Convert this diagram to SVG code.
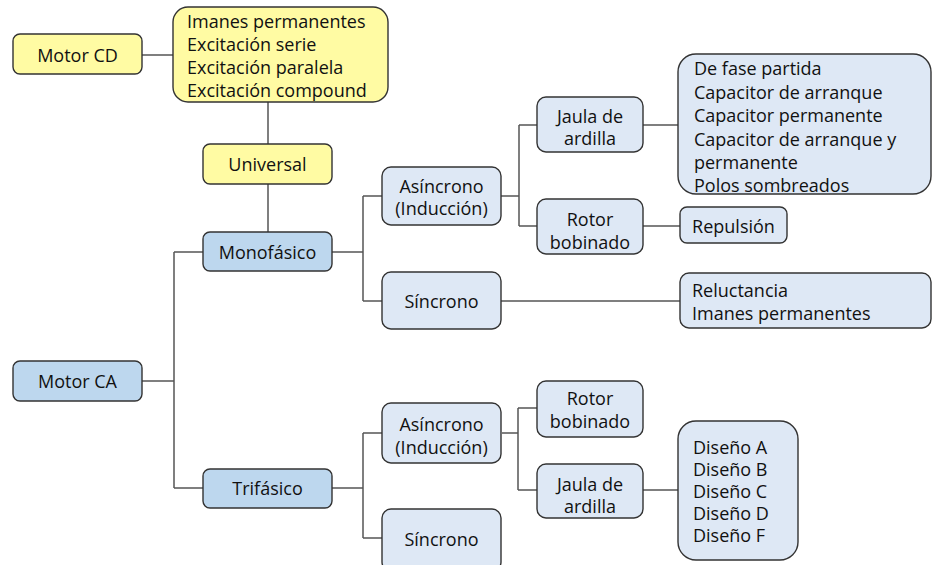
<svg xmlns="http://www.w3.org/2000/svg" width="933" height="565" viewBox="0 0 933 565">
<style>
text{font-family:"Open Sans","Noto Sans","DejaVu Sans",sans-serif;font-size:18px;fill:#111;dominant-baseline:central}
.c{text-anchor:middle}
.box{stroke:#333;stroke-width:1.4}
.y{fill:#fffba3}
.d{fill:#bdd7ee}
.l{fill:#dee8f5}
#connectors path{fill:none;stroke:#555;stroke-width:1.5}
</style>
<rect width="933" height="565" fill="#fff"/>
<g id="connectors">
<path d="M142,55H173"/>
<path d="M268,102V144M268,184V232"/>
<path d="M142,381H174M174,252V488M174,252H203M174,488H203"/>
<path d="M332,252H363M363,196V301M363,196H382M363,301H382"/>
<path d="M501,196H519M519,125V226M519,125H537M519,226H537"/>
<path d="M643,125H678M643,226H680M501,301H680"/>
<path d="M332,488H363M363,433V538M363,433H382M363,538H382"/>
<path d="M502,433H518M518,408V490M518,408H537M518,490H537"/>
<path d="M643,490H678"/>
</g>
<g id="motor-cd"><rect class="box y" x="13" y="34" width="129" height="40" rx="7"/><text class="c" x="77.5" y="55">Motor CD</text></g>
<g id="cd-tipos"><rect class="box y" x="173" y="7" width="215" height="95" rx="15"/>
<text x="187" y="21">Imanes permanentes</text><text x="187" y="44">Excitación serie</text><text x="187" y="67">Excitación paralela</text><text x="187" y="90">Excitación compound</text></g>
<g id="universal"><rect class="box y" x="203" y="144" width="129" height="40" rx="7"/><text class="c" x="267.5" y="164">Universal</text></g>
<g id="monofasico"><rect class="box d" x="203" y="232" width="129" height="39" rx="7"/><text class="c" x="267.5" y="252">Monofásico</text></g>
<g id="motor-ca"><rect class="box d" x="13" y="361" width="129" height="40" rx="7"/><text class="c" x="77.5" y="381">Motor CA</text></g>
<g id="trifasico"><rect class="box d" x="203" y="469" width="129" height="39" rx="7"/><text class="c" x="267.5" y="488">Trifásico</text></g>
<g id="mono-asincrono"><rect class="box l" x="382" y="167" width="119" height="58" rx="9"/><text class="c" x="441.5" y="186">Asíncrono</text><text class="c" x="441.5" y="208">(Inducción)</text></g>
<g id="mono-sincrono"><rect class="box l" x="382" y="272" width="119" height="57" rx="9"/><text class="c" x="441.5" y="301">Síncrono</text></g>
<g id="mono-jaula"><rect class="box l" x="537" y="97" width="106" height="55" rx="9"/><text class="c" x="590" y="116">Jaula de</text><text class="c" x="590" y="138">ardilla</text></g>
<g id="mono-rotor"><rect class="box l" x="537" y="199" width="106" height="55" rx="9"/><text class="c" x="590" y="219">Rotor</text><text class="c" x="590" y="242">bobinado</text></g>
<g id="mono-jaula-tipos"><rect class="box l" x="678" y="54" width="253" height="140" rx="18"/>
<text x="694" y="68">De fase partida</text><text x="694" y="91.5">Capacitor de arranque</text><text x="694" y="115">Capacitor permanente</text><text x="694" y="138.5">Capacitor de arranque y</text><text x="694" y="162">permanente</text><text x="694" y="185">Polos sombreados</text></g>
<g id="repulsion"><rect class="box l" x="680" y="207" width="107" height="36" rx="7"/><text class="c" x="733.5" y="226">Repulsión</text></g>
<g id="mono-sincrono-tipos"><rect class="box l" x="680" y="273" width="251" height="55" rx="9"/><text x="692" y="290">Reluctancia</text><text x="692" y="313">Imanes permanentes</text></g>
<g id="tri-asincrono"><rect class="box l" x="382" y="403" width="119" height="60" rx="9"/><text class="c" x="441.5" y="424">Asíncrono</text><text class="c" x="441.5" y="447">(Inducción)</text></g>
<g id="tri-sincrono"><rect class="box l" x="382" y="509" width="119" height="62" rx="9"/><text class="c" x="441.5" y="539">Síncrono</text></g>
<g id="tri-rotor"><rect class="box l" x="537" y="381" width="106" height="56" rx="9"/><text class="c" x="590" y="398">Rotor</text><text class="c" x="590" y="421">bobinado</text></g>
<g id="tri-jaula"><rect class="box l" x="537" y="464" width="106" height="54" rx="9"/><text class="c" x="590" y="484">Jaula de</text><text class="c" x="590" y="506">ardilla</text></g>
<g id="tri-jaula-tipos"><rect class="box l" x="678" y="421" width="120" height="139" rx="18"/>
<text x="693" y="447">Diseño A</text><text x="693" y="469">Diseño B</text><text x="693" y="491">Diseño C</text><text x="693" y="513">Diseño D</text><text x="693" y="535">Diseño F</text></g>
</svg>
